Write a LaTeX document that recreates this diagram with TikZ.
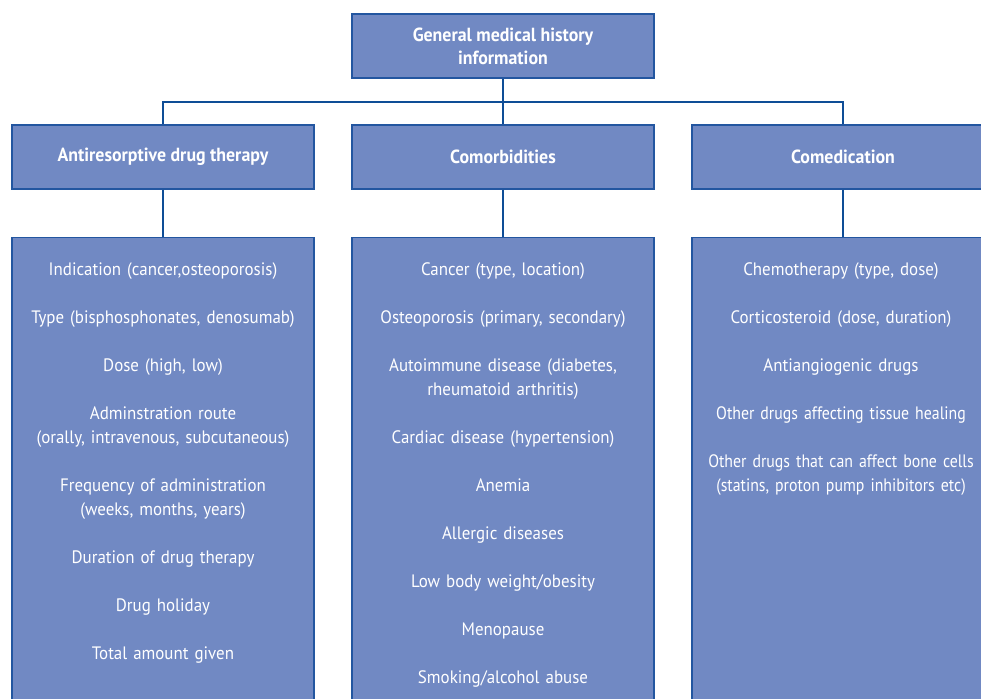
\documentclass[tikz,border=0pt]{standalone}
\usepackage{fontspec}
\setmainfont{PT Sans}[FakeStretch=0.94]
\newfontfamily\narrowfont{PT Sans}[FakeStretch=0.88]
\definecolor{boxfill}{HTML}{7189C3}
\definecolor{boxline}{HTML}{2356A0}
\definecolor{conn}{HTML}{0E4D96}
\begin{document}
\begin{tikzpicture}[x=1pt,y=-1pt,
  box/.style={draw=boxline, line width=1.1pt, fill=boxfill, minimum width=302pt, inner sep=0pt},
  headbox/.style={box, minimum height=64pt, text=white, font=\bfseries\fontsize{19}{23}\selectfont, align=center},
  listbox/.style={box, minimum height=500pt, anchor=north},
  listtext/.style={anchor=north, inner sep=0pt, text=white, align=center, text width=300pt, font=\fontsize{18}{24}\selectfont},
  link/.style={draw=conn, line width=2.4pt}]
\useasboundingbox (0,0) rectangle (981,698);
\clip (0,0) rectangle (981,698);
\node[headbox] (top) at (503,46) {General medical history\\information};
\node[headbox] (a) at (163,157) {Antiresorptive drug therapy};
\node[headbox] (b) at (503,157) {Comorbidities};
\node[headbox] (c) at (843,157) {Comedication};
\node[listbox] (la) at (163,237) {};
\node[listbox] (lb) at (503,237) {};
\node[listbox] (lc) at (843,237) {};
\coordinate (j) at (503,102);
\draw[link] (top.south) -- (j);
\draw[link] (a.north) |- (j);
\draw[link] (c.north) |- (j);
\draw[link] (j) -- (b.north);
\draw[link] (a.south) -- (la.north);
\draw[link] (b.south) -- (lb.north);
\draw[link] (c.south) -- (lc.north);
\node[listtext] (ta) at (163,262) {Indication (cancer,osteoporosis)\\[24pt]
Type (bisphosphonates, denosumab)\\[24pt]
Dose (high, low)\\[24pt]
Adminstration route\\(orally, intravenous, subcutaneous)\\[24pt]
Frequency of administration\\(weeks, months, years)\\[24pt]
Duration of drug therapy\\[24pt]
Drug holiday\\[24pt]
Total amount given};
\node[listtext] (tb) at (503,262) {Cancer (type, location)\\[24pt]
Osteoporosis (primary, secondary)\\[24pt]
Autoimmune disease (diabetes,\\rheumatoid arthritis)\\[24pt]
Cardiac disease (hypertension)\\[24pt]
Anemia\\[24pt]
Allergic diseases\\[24pt]
Low body weight/obesity\\[24pt]
Menopause\\[24pt]
Smoking/alcohol abuse};
\node[listtext] (tc) at (841,262) {Chemotherapy (type, dose)\\[24pt]
Corticosteroid (dose, duration)\\[24pt]
Antiangiogenic drugs\\[24pt]
{\narrowfont Other drugs affecting tissue healing}\\[24pt]
{\narrowfont Other drugs that can affect bone cells}\\{\narrowfont(statins, proton pump inhibitors etc)}};
\end{tikzpicture}
\end{document}
